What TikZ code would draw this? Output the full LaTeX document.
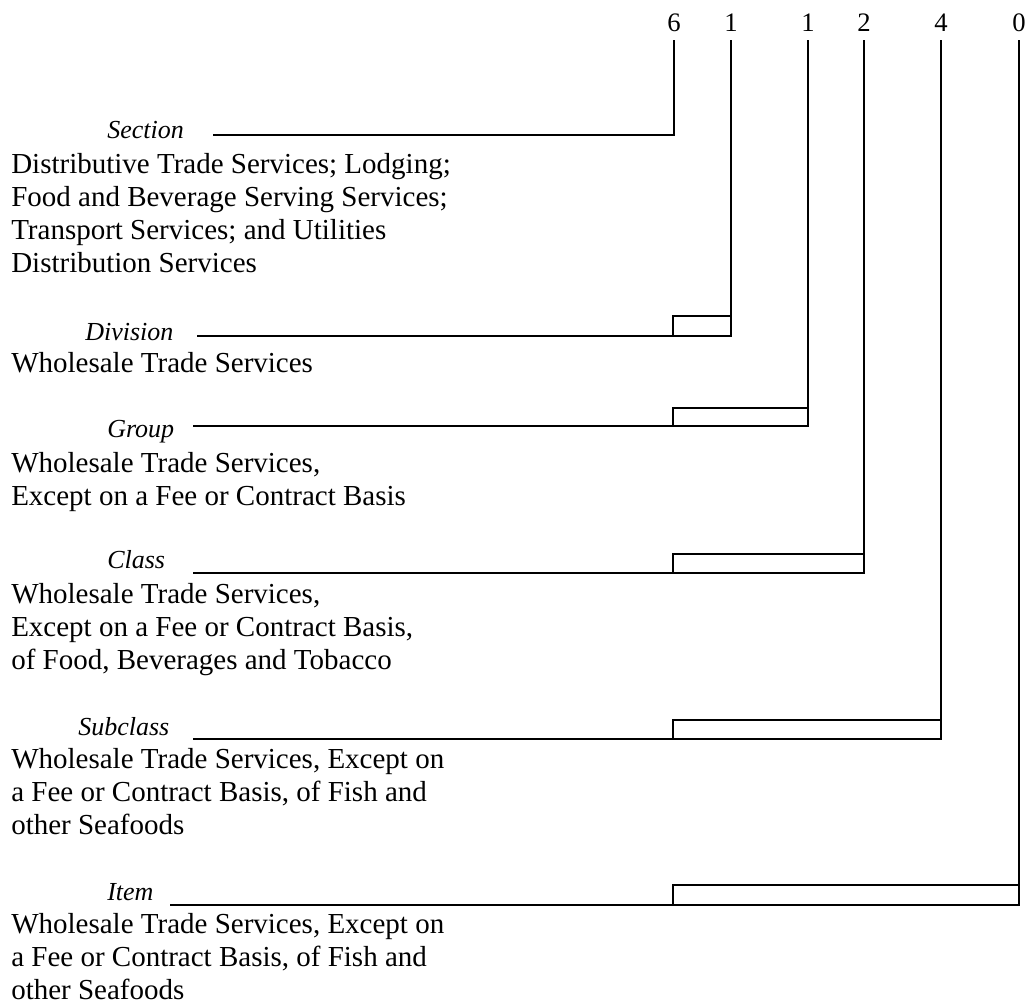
\documentclass[tikz,border=0pt]{standalone}
\usepackage{fontspec}
\setmainfont{Liberation Serif}
\begin{document}
\begin{tikzpicture}[x=0.75pt,y=-0.75pt]
  \tikzstyle{digit}=[anchor=south,inner sep=6pt,font=\fontsize{20}{24}\selectfont]
  \tikzstyle{level}=[anchor=base west,inner sep=0pt,font=\fontsize{19.5}{23}\selectfont\itshape]
  \tikzstyle{title}=[anchor=north west,inner sep=0pt,align=left,font=\fontsize{21.75}{24.75}\selectfont]
  \tikzstyle{rule}=[draw,line width=1.5pt]
  \useasboundingbox (0,0) rectangle (1031,1007);
  \node[digit] (d6) at (674,40) {6};
  \node[digit] (d1a) at (731,40) {1};
  \node[digit] (d1b) at (808,40) {1};
  \node[digit] (d2) at (864,40) {2};
  \node[digit] (d4) at (941,40) {4};
  \node[digit] (d0) at (1019,40) {0};
  \node[level] (sec) at (107,138) {Section};
  \node[level] (div) at (85,340) {Division};
  \node[level] (grp) at (107,437) {Group};
  \node[level] (cls) at (107,568) {Class};
  \node[level] (sub) at (78,735) {Subclass};
  \node[level] (itm) at (107,900) {Item};
  \node[title] (sec-txt) at (11,153) {Distributive Trade Services; Lodging;\\Food and Beverage Serving Services;\\Transport Services; and Utilities\\Distribution Services};
  \node[title] (div-txt) at (11,352) {Wholesale Trade Services};
  \node[title] (grp-txt) at (11,452) {Wholesale Trade Services,\\Except on a Fee or Contract Basis};
  \node[title] (cls-txt) at (11,583) {Wholesale Trade Services,\\Except on a Fee or Contract Basis,\\of Food, Beverages and Tobacco};
  \node[title] (sub-txt) at (11,748) {Wholesale Trade Services, Except on\\a Fee or Contract Basis, of Fish and\\other Seafoods};
  \node[title] (itm-txt) at (11,913) {Wholesale Trade Services, Except on\\a Fee or Contract Basis, of Fish and\\other Seafoods};
  \coordinate (sec-l) at (213,135);
  \coordinate (div-l) at (197,336);
  \coordinate (div-t) at (673,316);
  \coordinate (grp-l) at (193,426);
  \coordinate (grp-t) at (673,408);
  \coordinate (cls-l) at (193,573);
  \coordinate (cls-t) at (673,554);
  \coordinate (sub-l) at (193,739);
  \coordinate (sub-t) at (673,720);
  \coordinate (itm-l) at (170,905);
  \coordinate (itm-t) at (673,885);
  \draw[rule] (sec-l) -- (sec-l -| d6) -- (d6.south);
  \foreach \lv/\dg/\w in {div/d1a/1pt,grp/d1b/1pt,cls/d2/1pt,sub/d4/1.5pt,itm/d0/1pt}
  {
    \draw[rule] (\lv-l) -- (\lv-l -| \lv-t) rectangle (\lv-t -| \dg);
    \draw[line width=\w] (\dg.south) -- (\dg.south |- \lv-l);
  }
\end{tikzpicture}
\end{document}
